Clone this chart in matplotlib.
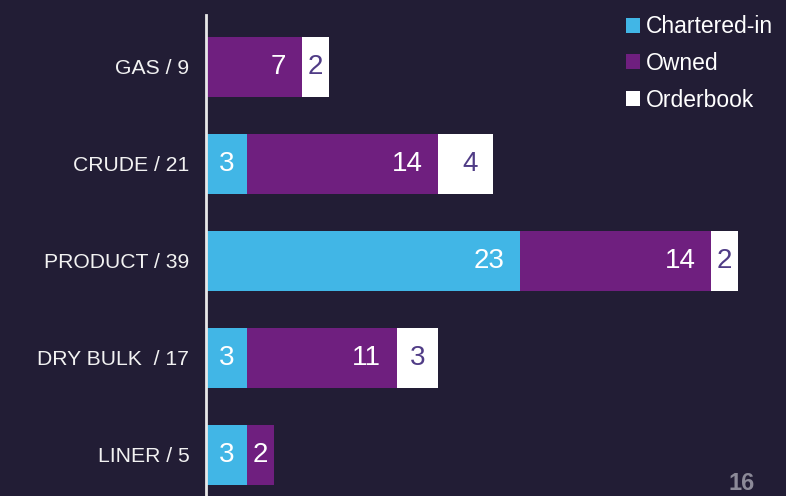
import matplotlib.pyplot as plt
from matplotlib.patches import Patch

# fleet by segment
categories = ['GAS / 9', 'CRUDE / 21', 'PRODUCT / 39', 'DRY BULK  / 17', 'LINER / 5']
chartered = [0, 3, 23, 3, 3]
owned = [7, 14, 14, 11, 2]
orderbook = [2, 4, 2, 3, 0]
series_names = ['Chartered-in', 'Owned', 'Orderbook']

bg = '#221d35'
c_cyan = '#41b6e6'
c_purple = '#6f1f7f'
c_white = '#ffffff'
c_txt_on_white = '#503c86'

plt.rcParams['font.family'] = ['Liberation Sans', 'DejaVu Sans']

fig = plt.figure(figsize=(7.86, 4.96), dpi=100, facecolor=bg)
ax = fig.add_axes([206 / 786, 0, 580 / 786, 1])
ax.set_facecolor(bg)

y = list(range(len(categories)))
h = 0.62
left = [0] * len(categories)
for vals, col, tcol in [(chartered, c_cyan, 'white'),
                        (owned, c_purple, 'white'),
                        (orderbook, c_white, c_txt_on_white)]:
    ax.barh(y, vals, left=left, height=h, color=col, edgecolor='none')
    for i, v in enumerate(vals):
        if v == 0:
            continue
        nd = len(str(v))
        right = left[i] + v
        # inside-end label, centred when segment is too small
        xc = max(left[i] + v / 2, right - 1.1 - nd * 0.58)
        ax.text(xc, i, str(v), ha='center', va='center', color=tcol, fontsize=20)
    left = [a + b for a, b in zip(left, vals)]

ax.set_xlim(0, 580 / 13.65)
ax.set_ylim(4 + 41 / 97, -67 / 97)
ax.set_yticks(y)
ax.set_yticklabels(categories, color='#f2f2f2', fontsize=15.2)
ax.tick_params(axis='y', length=0, pad=12)
ax.set_xticks([])
for s in ['top', 'right', 'bottom']:
    ax.spines[s].set_visible(False)
ax.spines['left'].set_color('#e8e8e8')
ax.spines['left'].set_linewidth(2)
ax.spines['left'].set_bounds(-67 / 97 + 15 / 97, 4 + 41 / 97)

handles = [Patch(facecolor=c, edgecolor='none') for c in [c_cyan, c_purple, c_white]]
leg = ax.legend(handles, series_names, loc='upper left', bbox_to_anchor=((617 - 206) / 580, 1 - 6 / 496),
                frameon=False, fontsize=16.5, labelcolor='white', handlelength=0.62, handleheight=0.62,
                handletextpad=0.25, labelspacing=0.6, borderaxespad=0)

fig.text(742 / 786, 1 / 496, '16', color='#8c8a98', fontsize=17, ha='center', va='bottom', fontweight='bold')

fig.savefig('out.png', dpi=100, facecolor=bg)
